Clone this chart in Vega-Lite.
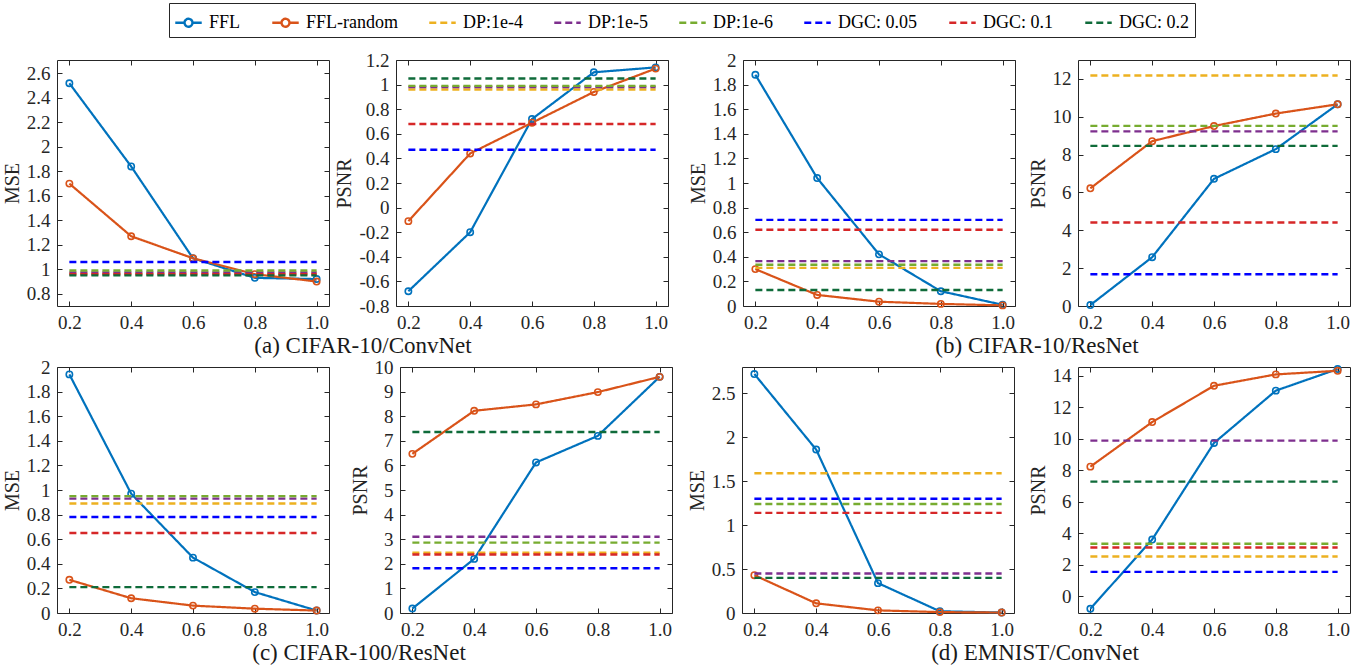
{
"$schema": "https://vega.github.io/schema/vega-lite/v6.json",
"background": "white",
"padding": {"left": 1, "top": 2, "right": 5, "bottom": 5},
"datasets": {"d": [
{"p":"aM","m":"FFL","r":0.2,"v":2.52},{"p":"aM","m":"FFL","r":0.4,"v":1.84},{"p":"aM","m":"FFL","r":0.6,"v":1.09},{"p":"aM","m":"FFL","r":0.8,"v":0.93},{"p":"aM","m":"FFL","r":1.0,"v":0.92},
{"p":"aM","m":"FFL-random","r":0.2,"v":1.70},{"p":"aM","m":"FFL-random","r":0.4,"v":1.27},{"p":"aM","m":"FFL-random","r":0.6,"v":1.09},{"p":"aM","m":"FFL-random","r":0.8,"v":0.96},{"p":"aM","m":"FFL-random","r":1.0,"v":0.90},
{"p":"aM","m":"DP:1e-4","v":0.965},{"p":"aM","m":"DP:1e-5","v":0.975},{"p":"aM","m":"DP:1e-6","v":0.99},{"p":"aM","m":"DGC: 0.05","v":1.06},{"p":"aM","m":"DGC: 0.1","v":0.96},{"p":"aM","m":"DGC: 0.2","v":0.95},

{"p":"aP","m":"FFL","r":0.2,"v":-0.68},{"p":"aP","m":"FFL","r":0.4,"v":-0.20},{"p":"aP","m":"FFL","r":0.6,"v":0.72},{"p":"aP","m":"FFL","r":0.8,"v":1.10},{"p":"aP","m":"FFL","r":1.0,"v":1.14},
{"p":"aP","m":"FFL-random","r":0.2,"v":-0.11},{"p":"aP","m":"FFL-random","r":0.4,"v":0.44},{"p":"aP","m":"FFL-random","r":0.6,"v":0.69},{"p":"aP","m":"FFL-random","r":0.8,"v":0.94},{"p":"aP","m":"FFL-random","r":1.0,"v":1.13},
{"p":"aP","m":"DP:1e-4","v":0.96},{"p":"aP","m":"DP:1e-5","v":0.98},{"p":"aP","m":"DP:1e-6","v":0.99},{"p":"aP","m":"DGC: 0.05","v":0.47},{"p":"aP","m":"DGC: 0.1","v":0.68},{"p":"aP","m":"DGC: 0.2","v":1.05},

{"p":"bM","m":"FFL","r":0.2,"v":1.88},{"p":"bM","m":"FFL","r":0.4,"v":1.04},{"p":"bM","m":"FFL","r":0.6,"v":0.42},{"p":"bM","m":"FFL","r":0.8,"v":0.12},{"p":"bM","m":"FFL","r":1.0,"v":0.01},
{"p":"bM","m":"FFL-random","r":0.2,"v":0.30},{"p":"bM","m":"FFL-random","r":0.4,"v":0.09},{"p":"bM","m":"FFL-random","r":0.6,"v":0.035},{"p":"bM","m":"FFL-random","r":0.8,"v":0.017},{"p":"bM","m":"FFL-random","r":1.0,"v":0.005},
{"p":"bM","m":"DP:1e-4","v":0.31},{"p":"bM","m":"DP:1e-5","v":0.365},{"p":"bM","m":"DP:1e-6","v":0.335},{"p":"bM","m":"DGC: 0.05","v":0.70},{"p":"bM","m":"DGC: 0.1","v":0.62},{"p":"bM","m":"DGC: 0.2","v":0.13},

{"p":"bP","m":"FFL","r":0.2,"v":0.05},{"p":"bP","m":"FFL","r":0.4,"v":2.58},{"p":"bP","m":"FFL","r":0.6,"v":6.72},{"p":"bP","m":"FFL","r":0.8,"v":8.29},{"p":"bP","m":"FFL","r":1.0,"v":10.66},
{"p":"bP","m":"FFL-random","r":0.2,"v":6.22},{"p":"bP","m":"FFL-random","r":0.4,"v":8.71},{"p":"bP","m":"FFL-random","r":0.6,"v":9.51},{"p":"bP","m":"FFL-random","r":0.8,"v":10.17},{"p":"bP","m":"FFL-random","r":1.0,"v":10.66},
{"p":"bP","m":"DP:1e-4","v":12.18},{"p":"bP","m":"DP:1e-5","v":9.23},{"p":"bP","m":"DP:1e-6","v":9.52},{"p":"bP","m":"DGC: 0.05","v":1.68},{"p":"bP","m":"DGC: 0.1","v":4.41},{"p":"bP","m":"DGC: 0.2","v":8.46},

{"p":"cM","m":"FFL","r":0.2,"v":1.94},{"p":"cM","m":"FFL","r":0.4,"v":0.97},{"p":"cM","m":"FFL","r":0.6,"v":0.45},{"p":"cM","m":"FFL","r":0.8,"v":0.17},{"p":"cM","m":"FFL","r":1.0,"v":0.02},
{"p":"cM","m":"FFL-random","r":0.2,"v":0.27},{"p":"cM","m":"FFL-random","r":0.4,"v":0.12},{"p":"cM","m":"FFL-random","r":0.6,"v":0.06},{"p":"cM","m":"FFL-random","r":0.8,"v":0.035},{"p":"cM","m":"FFL-random","r":1.0,"v":0.02},
{"p":"cM","m":"DP:1e-4","v":0.89},{"p":"cM","m":"DP:1e-5","v":0.93},{"p":"cM","m":"DP:1e-6","v":0.95},{"p":"cM","m":"DGC: 0.05","v":0.78},{"p":"cM","m":"DGC: 0.1","v":0.65},{"p":"cM","m":"DGC: 0.2","v":0.21},

{"p":"cP","m":"FFL","r":0.2,"v":0.18},{"p":"cP","m":"FFL","r":0.4,"v":2.2},{"p":"cP","m":"FFL","r":0.6,"v":6.12},{"p":"cP","m":"FFL","r":0.8,"v":7.2},{"p":"cP","m":"FFL","r":1.0,"v":9.6},
{"p":"cP","m":"FFL-random","r":0.2,"v":6.47},{"p":"cP","m":"FFL-random","r":0.4,"v":8.22},{"p":"cP","m":"FFL-random","r":0.6,"v":8.48},{"p":"cP","m":"FFL-random","r":0.8,"v":8.98},{"p":"cP","m":"FFL-random","r":1.0,"v":9.6},
{"p":"cP","m":"DP:1e-4","v":2.45},{"p":"cP","m":"DP:1e-5","v":3.1},{"p":"cP","m":"DP:1e-6","v":2.86},{"p":"cP","m":"DGC: 0.05","v":1.82},{"p":"cP","m":"DGC: 0.1","v":2.38},{"p":"cP","m":"DGC: 0.2","v":7.36},

{"p":"dM","m":"FFL","r":0.2,"v":2.72},{"p":"dM","m":"FFL","r":0.4,"v":1.86},{"p":"dM","m":"FFL","r":0.6,"v":0.34},{"p":"dM","m":"FFL","r":0.8,"v":0.02},{"p":"dM","m":"FFL","r":1.0,"v":0.005},
{"p":"dM","m":"FFL-random","r":0.2,"v":0.43},{"p":"dM","m":"FFL-random","r":0.4,"v":0.11},{"p":"dM","m":"FFL-random","r":0.6,"v":0.03},{"p":"dM","m":"FFL-random","r":0.8,"v":0.01},{"p":"dM","m":"FFL-random","r":1.0,"v":0.005},
{"p":"dM","m":"DP:1e-4","v":1.59},{"p":"dM","m":"DP:1e-5","v":0.45},{"p":"dM","m":"DP:1e-6","v":1.24},{"p":"dM","m":"DGC: 0.05","v":1.30},{"p":"dM","m":"DGC: 0.1","v":1.14},{"p":"dM","m":"DGC: 0.2","v":0.40},

{"p":"dP","m":"FFL","r":0.2,"v":-0.78},{"p":"dP","m":"FFL","r":0.4,"v":3.61},{"p":"dP","m":"FFL","r":0.6,"v":9.73},{"p":"dP","m":"FFL","r":0.8,"v":13.05},{"p":"dP","m":"FFL","r":1.0,"v":14.42},
{"p":"dP","m":"FFL-random","r":0.2,"v":8.23},{"p":"dP","m":"FFL-random","r":0.4,"v":11.06},{"p":"dP","m":"FFL-random","r":0.6,"v":13.36},{"p":"dP","m":"FFL-random","r":0.8,"v":14.08},{"p":"dP","m":"FFL-random","r":1.0,"v":14.31},
{"p":"dP","m":"DP:1e-4","v":2.53},{"p":"dP","m":"DP:1e-5","v":9.88},{"p":"dP","m":"DP:1e-6","v":3.34},{"p":"dP","m":"DGC: 0.05","v":1.56},{"p":"dP","m":"DGC: 0.1","v":3.10},{"p":"dP","m":"DGC: 0.2","v":7.28}
]},
"spacing": -1,
"vconcat": [
{"hconcat": [
 {"hconcat": [
  {"width": 272, "height": 246, "data": {"name": "d"}, "transform": [{"filter": "datum.p == 'aM'"}],
   "layer": [
    {"transform": [{"filter": "isValid(datum.r)"}], "mark": {"type": "line", "strokeWidth": 2.2},
     "encoding": {"x": {"field": "r", "type": "quantitative", "scale": {"domain": [0.16, 1.04], "nice": false, "zero": false}, "axis": {"orient": "bottom", "values": [0.2,0.4,0.6,0.8,1.0], "format": ".1f", "title": null}},
      "y": {"field": "v", "type": "quantitative", "scale": {"domain": [0.7, 2.71], "nice": false, "zero": false}, "axis": {"orient": "left", "values": [0.8,1,1.2,1.4,1.6,1.8,2,2.2,2.4,2.6], "labelExpr": "datum.value + ''", "title": "MSE"}},
      "color": {"field": "m", "type": "nominal", "scale": {"domain": ["FFL","FFL-random","DP:1e-4","DP:1e-5","DP:1e-6","DGC: 0.05","DGC: 0.1","DGC: 0.2"], "range": ["#0072BD","#D95319","#EDB120","#7E2F8E","#77AC30","#0000FF","#D62728","#0F6B3A"]}, "legend": {"title": null, "orient": "none", "legendX": 112, "legendY": -57, "direction": "horizontal", "columns": 8, "symbolType": "stroke", "encode": {"symbols": {"update": {"shape": {"signal": "datum.value == 'FFL' || datum.value == 'FFL-random' ? 'M-1,0L-0.3,0M0.3,0L1,0M0.3,0A0.3,0.3,0,1,1,-0.3,0A0.3,0.3,0,1,1,0.3,0' : 'stroke'"}, "fill": {"value": "transparent"}}}}}},
      "strokeDash": {"field": "m", "type": "nominal", "scale": {"domain": ["FFL","FFL-random","DP:1e-4","DP:1e-5","DP:1e-6","DGC: 0.05","DGC: 0.1","DGC: 0.2"], "range": [[1,0],[1,0],[7,4],[7,4],[7,4],[7,4],[7,4],[7,4]]}, "legend": {"title": null, "orient": "none", "legendX": 112, "legendY": -57, "direction": "horizontal", "columns": 8, "symbolType": "stroke", "encode": {"symbols": {"update": {"shape": {"signal": "datum.value == 'FFL' || datum.value == 'FFL-random' ? 'M-1,0L-0.3,0M0.3,0L1,0M0.3,0A0.3,0.3,0,1,1,-0.3,0A0.3,0.3,0,1,1,0.3,0' : 'stroke'"}, "fill": {"value": "transparent"}}}}}}}},
    {"transform": [{"filter": "isValid(datum.r)"}], "mark": {"type": "point", "filled": false, "size": 40, "strokeWidth": 1.6, "opacity": 1},
     "encoding": {"x": {"field": "r", "type": "quantitative", "axis": {"orient": "top", "values": [0.2,0.4,0.6,0.8,1.0], "labels": false, "title": null}},
      "y": {"field": "v", "type": "quantitative", "axis": {"orient": "right", "values": [0.8,1,1.2,1.4,1.6,1.8,2,2.2,2.4,2.6], "labels": false, "title": null}},
      "color": {"field": "m", "type": "nominal"}}},
    {"transform": [{"filter": "!isValid(datum.r)"}], "mark": {"type": "rule", "strokeWidth": 2.4},
     "encoding": {"x": {"datum": 0.2, "type": "quantitative", "axis": null}, "x2": {"datum": 1.0}, "y": {"field": "v", "type": "quantitative", "axis": null},
      "color": {"field": "m", "type": "nominal"}, "strokeDash": {"field": "m", "type": "nominal"}}}
   ]},
  {"width": 272, "height": 246, "data": {"name": "d"}, "transform": [{"filter": "datum.p == 'aP'"}],
   "layer": [
    {"transform": [{"filter": "isValid(datum.r)"}], "mark": {"type": "line", "strokeWidth": 2.2},
     "encoding": {"x": {"field": "r", "type": "quantitative", "scale": {"domain": [0.16, 1.04], "nice": false, "zero": false}, "axis": {"orient": "bottom", "values": [0.2,0.4,0.6,0.8,1.0], "format": ".1f", "title": null}},
      "y": {"field": "v", "type": "quantitative", "scale": {"domain": [-0.8, 1.2], "nice": false, "zero": false}, "axis": {"orient": "left", "values": [-0.8,-0.6,-0.4,-0.2,0,0.2,0.4,0.6,0.8,1,1.2], "labelExpr": "datum.value + ''", "title": "PSNR"}},
      "color": {"field": "m", "type": "nominal"}, "strokeDash": {"field": "m", "type": "nominal"}}},
    {"transform": [{"filter": "isValid(datum.r)"}], "mark": {"type": "point", "filled": false, "size": 40, "strokeWidth": 1.6, "opacity": 1},
     "encoding": {"x": {"field": "r", "type": "quantitative", "axis": {"orient": "top", "values": [0.2,0.4,0.6,0.8,1.0], "labels": false, "title": null}},
      "y": {"field": "v", "type": "quantitative", "axis": {"orient": "right", "values": [-0.8,-0.6,-0.4,-0.2,0,0.2,0.4,0.6,0.8,1,1.2], "labels": false, "title": null}},
      "color": {"field": "m", "type": "nominal"}}},
    {"transform": [{"filter": "!isValid(datum.r)"}], "mark": {"type": "rule", "strokeWidth": 2.4},
     "encoding": {"x": {"datum": 0.2, "type": "quantitative", "axis": null}, "x2": {"datum": 1.0}, "y": {"field": "v", "type": "quantitative", "axis": null},
      "color": {"field": "m", "type": "nominal"}, "strokeDash": {"field": "m", "type": "nominal"}}}
   ]}
 ], "spacing": 4,
 "title": {"text": "(a) CIFAR-10/ConvNet", "orient": "bottom", "anchor": "middle", "frame": "group", "offset": 2, "dx": 306}},
 {"hconcat": [
  {"width": 272, "height": 246, "data": {"name": "d"}, "transform": [{"filter": "datum.p == 'bM'"}],
   "layer": [
    {"transform": [{"filter": "isValid(datum.r)"}], "mark": {"type": "line", "strokeWidth": 2.2},
     "encoding": {"x": {"field": "r", "type": "quantitative", "scale": {"domain": [0.16, 1.04], "nice": false, "zero": false}, "axis": {"orient": "bottom", "values": [0.2,0.4,0.6,0.8,1.0], "format": ".1f", "title": null}},
      "y": {"field": "v", "type": "quantitative", "scale": {"domain": [0, 2], "nice": false, "zero": false}, "axis": {"orient": "left", "values": [0,0.2,0.4,0.6,0.8,1,1.2,1.4,1.6,1.8,2], "labelExpr": "datum.value + ''", "title": "MSE"}},
      "color": {"field": "m", "type": "nominal"}, "strokeDash": {"field": "m", "type": "nominal"}}},
    {"transform": [{"filter": "isValid(datum.r)"}], "mark": {"type": "point", "filled": false, "size": 40, "strokeWidth": 1.6, "opacity": 1},
     "encoding": {"x": {"field": "r", "type": "quantitative", "axis": {"orient": "top", "values": [0.2,0.4,0.6,0.8,1.0], "labels": false, "title": null}},
      "y": {"field": "v", "type": "quantitative", "axis": {"orient": "right", "values": [0,0.2,0.4,0.6,0.8,1,1.2,1.4,1.6,1.8,2], "labels": false, "title": null}},
      "color": {"field": "m", "type": "nominal"}}},
    {"transform": [{"filter": "!isValid(datum.r)"}], "mark": {"type": "rule", "strokeWidth": 2.4},
     "encoding": {"x": {"datum": 0.2, "type": "quantitative", "axis": null}, "x2": {"datum": 1.0}, "y": {"field": "v", "type": "quantitative", "axis": null},
      "color": {"field": "m", "type": "nominal"}, "strokeDash": {"field": "m", "type": "nominal"}}}
   ]},
  {"width": 272, "height": 246, "data": {"name": "d"}, "transform": [{"filter": "datum.p == 'bP'"}],
   "layer": [
    {"transform": [{"filter": "isValid(datum.r)"}], "mark": {"type": "line", "strokeWidth": 2.2},
     "encoding": {"x": {"field": "r", "type": "quantitative", "scale": {"domain": [0.16, 1.04], "nice": false, "zero": false}, "axis": {"orient": "bottom", "values": [0.2,0.4,0.6,0.8,1.0], "format": ".1f", "title": null}},
      "y": {"field": "v", "type": "quantitative", "scale": {"domain": [0, 13], "nice": false, "zero": false}, "axis": {"orient": "left", "values": [0,2,4,6,8,10,12], "labelExpr": "datum.value + ''", "title": "PSNR"}},
      "color": {"field": "m", "type": "nominal"}, "strokeDash": {"field": "m", "type": "nominal"}}},
    {"transform": [{"filter": "isValid(datum.r)"}], "mark": {"type": "point", "filled": false, "size": 40, "strokeWidth": 1.6, "opacity": 1},
     "encoding": {"x": {"field": "r", "type": "quantitative", "axis": {"orient": "top", "values": [0.2,0.4,0.6,0.8,1.0], "labels": false, "title": null}},
      "y": {"field": "v", "type": "quantitative", "axis": {"orient": "right", "values": [0,2,4,6,8,10,12], "labels": false, "title": null}},
      "color": {"field": "m", "type": "nominal"}}},
    {"transform": [{"filter": "!isValid(datum.r)"}], "mark": {"type": "rule", "strokeWidth": 2.4},
     "encoding": {"x": {"datum": 0.2, "type": "quantitative", "axis": null}, "x2": {"datum": 1.0}, "y": {"field": "v", "type": "quantitative", "axis": null},
      "color": {"field": "m", "type": "nominal"}, "strokeDash": {"field": "m", "type": "nominal"}}}
   ]}
 ], "spacing": 11,
 "title": {"text": "(b) CIFAR-10/ResNet", "orient": "bottom", "anchor": "middle", "frame": "group", "offset": 2, "dx": 294}}
], "spacing": 18},
{"hconcat": [
 {"hconcat": [
  {"width": 272, "height": 246, "data": {"name": "d"}, "transform": [{"filter": "datum.p == 'cM'"}],
   "layer": [
    {"transform": [{"filter": "isValid(datum.r)"}], "mark": {"type": "line", "strokeWidth": 2.2},
     "encoding": {"x": {"field": "r", "type": "quantitative", "scale": {"domain": [0.16, 1.04], "nice": false, "zero": false}, "axis": {"orient": "bottom", "values": [0.2,0.4,0.6,0.8,1.0], "format": ".1f", "title": null}},
      "y": {"field": "v", "type": "quantitative", "scale": {"domain": [0, 2], "nice": false, "zero": false}, "axis": {"orient": "left", "values": [0,0.2,0.4,0.6,0.8,1,1.2,1.4,1.6,1.8,2], "labelExpr": "datum.value + ''", "title": "MSE"}},
      "color": {"field": "m", "type": "nominal"}, "strokeDash": {"field": "m", "type": "nominal"}}},
    {"transform": [{"filter": "isValid(datum.r)"}], "mark": {"type": "point", "filled": false, "size": 40, "strokeWidth": 1.6, "opacity": 1},
     "encoding": {"x": {"field": "r", "type": "quantitative", "axis": {"orient": "top", "values": [0.2,0.4,0.6,0.8,1.0], "labels": false, "title": null}},
      "y": {"field": "v", "type": "quantitative", "axis": {"orient": "right", "values": [0,0.2,0.4,0.6,0.8,1,1.2,1.4,1.6,1.8,2], "labels": false, "title": null}},
      "color": {"field": "m", "type": "nominal"}}},
    {"transform": [{"filter": "!isValid(datum.r)"}], "mark": {"type": "rule", "strokeWidth": 2.4},
     "encoding": {"x": {"datum": 0.2, "type": "quantitative", "axis": null}, "x2": {"datum": 1.0}, "y": {"field": "v", "type": "quantitative", "axis": null},
      "color": {"field": "m", "type": "nominal"}, "strokeDash": {"field": "m", "type": "nominal"}}}
   ]},
  {"width": 272, "height": 246, "data": {"name": "d"}, "transform": [{"filter": "datum.p == 'cP'"}],
   "layer": [
    {"transform": [{"filter": "isValid(datum.r)"}], "mark": {"type": "line", "strokeWidth": 2.2},
     "encoding": {"x": {"field": "r", "type": "quantitative", "scale": {"domain": [0.16, 1.04], "nice": false, "zero": false}, "axis": {"orient": "bottom", "values": [0.2,0.4,0.6,0.8,1.0], "format": ".1f", "title": null}},
      "y": {"field": "v", "type": "quantitative", "scale": {"domain": [0, 10], "nice": false, "zero": false}, "axis": {"orient": "left", "values": [0,1,2,3,4,5,6,7,8,9,10], "labelExpr": "datum.value + ''", "title": "PSNR"}},
      "color": {"field": "m", "type": "nominal"}, "strokeDash": {"field": "m", "type": "nominal"}}},
    {"transform": [{"filter": "isValid(datum.r)"}], "mark": {"type": "point", "filled": false, "size": 40, "strokeWidth": 1.6, "opacity": 1},
     "encoding": {"x": {"field": "r", "type": "quantitative", "axis": {"orient": "top", "values": [0.2,0.4,0.6,0.8,1.0], "labels": false, "title": null}},
      "y": {"field": "v", "type": "quantitative", "axis": {"orient": "right", "values": [0,1,2,3,4,5,6,7,8,9,10], "labels": false, "title": null}},
      "color": {"field": "m", "type": "nominal"}}},
    {"transform": [{"filter": "!isValid(datum.r)"}], "mark": {"type": "rule", "strokeWidth": 2.4},
     "encoding": {"x": {"datum": 0.2, "type": "quantitative", "axis": null}, "x2": {"datum": 1.0}, "y": {"field": "v", "type": "quantitative", "axis": null},
      "color": {"field": "m", "type": "nominal"}, "strokeDash": {"field": "m", "type": "nominal"}}}
   ]}
 ], "spacing": 19,
 "title": {"text": "(c) CIFAR-100/ResNet", "orient": "bottom", "anchor": "middle", "frame": "group", "offset": 2, "dx": 302}},
 {"hconcat": [
  {"width": 272, "height": 246, "data": {"name": "d"}, "transform": [{"filter": "datum.p == 'dM'"}],
   "layer": [
    {"transform": [{"filter": "isValid(datum.r)"}], "mark": {"type": "line", "strokeWidth": 2.2},
     "encoding": {"x": {"field": "r", "type": "quantitative", "scale": {"domain": [0.16, 1.04], "nice": false, "zero": false}, "axis": {"orient": "bottom", "values": [0.2,0.4,0.6,0.8,1.0], "format": ".1f", "title": null}},
      "y": {"field": "v", "type": "quantitative", "scale": {"domain": [0, 2.8], "nice": false, "zero": false}, "axis": {"orient": "left", "values": [0,0.5,1,1.5,2,2.5], "labelExpr": "datum.value + ''", "title": "MSE"}},
      "color": {"field": "m", "type": "nominal"}, "strokeDash": {"field": "m", "type": "nominal"}}},
    {"transform": [{"filter": "isValid(datum.r)"}], "mark": {"type": "point", "filled": false, "size": 40, "strokeWidth": 1.6, "opacity": 1},
     "encoding": {"x": {"field": "r", "type": "quantitative", "axis": {"orient": "top", "values": [0.2,0.4,0.6,0.8,1.0], "labels": false, "title": null}},
      "y": {"field": "v", "type": "quantitative", "axis": {"orient": "right", "values": [0,0.5,1,1.5,2,2.5], "labels": false, "title": null}},
      "color": {"field": "m", "type": "nominal"}}},
    {"transform": [{"filter": "!isValid(datum.r)"}], "mark": {"type": "rule", "strokeWidth": 2.4},
     "encoding": {"x": {"datum": 0.2, "type": "quantitative", "axis": null}, "x2": {"datum": 1.0}, "y": {"field": "v", "type": "quantitative", "axis": null},
      "color": {"field": "m", "type": "nominal"}, "strokeDash": {"field": "m", "type": "nominal"}}}
   ]},
  {"width": 272, "height": 246, "data": {"name": "d"}, "transform": [{"filter": "datum.p == 'dP'"}],
   "layer": [
    {"transform": [{"filter": "isValid(datum.r)"}], "mark": {"type": "line", "strokeWidth": 2.2},
     "encoding": {"x": {"field": "r", "type": "quantitative", "scale": {"domain": [0.16, 1.04], "nice": false, "zero": false}, "axis": {"orient": "bottom", "values": [0.2,0.4,0.6,0.8,1.0], "format": ".1f", "title": null}},
      "y": {"field": "v", "type": "quantitative", "scale": {"domain": [-1.05, 14.55], "nice": false, "zero": false}, "axis": {"orient": "left", "values": [0,2,4,6,8,10,12,14], "labelExpr": "datum.value + ''", "title": "PSNR"}},
      "color": {"field": "m", "type": "nominal"}, "strokeDash": {"field": "m", "type": "nominal"}}},
    {"transform": [{"filter": "isValid(datum.r)"}], "mark": {"type": "point", "filled": false, "size": 40, "strokeWidth": 1.6, "opacity": 1},
     "encoding": {"x": {"field": "r", "type": "quantitative", "axis": {"orient": "top", "values": [0.2,0.4,0.6,0.8,1.0], "labels": false, "title": null}},
      "y": {"field": "v", "type": "quantitative", "axis": {"orient": "right", "values": [0,2,4,6,8,10,12,14], "labels": false, "title": null}},
      "color": {"field": "m", "type": "nominal"}}},
    {"transform": [{"filter": "!isValid(datum.r)"}], "mark": {"type": "rule", "strokeWidth": 2.4},
     "encoding": {"x": {"datum": 0.2, "type": "quantitative", "axis": null}, "x2": {"datum": 1.0}, "y": {"field": "v", "type": "quantitative", "axis": null},
      "color": {"field": "m", "type": "nominal"}, "strokeDash": {"field": "m", "type": "nominal"}}}
   ]}
 ], "spacing": 12,
 "title": {"text": "(d) EMNIST/ConvNet", "orient": "bottom", "anchor": "middle", "frame": "group", "offset": 2, "dx": 293}}
], "spacing": 13}
],
"config": {
 "font": "Liberation Serif",
 "view": {"stroke": "#262626", "strokeWidth": 1},
 "axis": {"labelFont": "Liberation Serif", "labelFontSize": 19, "labelColor": "#262626", "titleFont": "Liberation Serif", "titleFontSize": 20, "titleFontWeight": "normal", "titleColor": "#262626", "tickColor": "#262626", "tickSize": -5, "tickWidth": 1, "labelPadding": 12, "domain": false, "grid": false, "titlePadding": 4},
 "legend": {"labelFont": "Liberation Serif", "labelFontSize": 18, "labelColor": "#000000", "strokeColor": "#262626", "fillColor": "#ffffff", "padding": 5, "columnPadding": 26, "symbolSize": 700, "symbolStrokeWidth": 2.4, "labelOffset": 6, "labelLimit": 0},
 "title": {"font": "Liberation Serif", "fontSize": 23, "fontWeight": "normal", "color": "#1a1a1a"}
}
}
